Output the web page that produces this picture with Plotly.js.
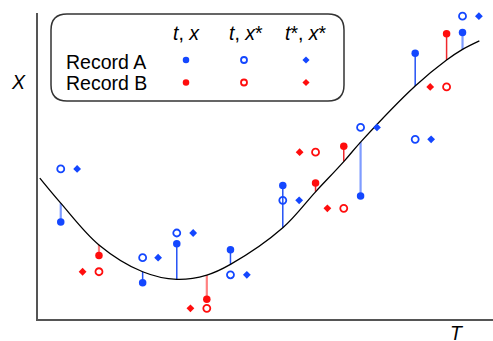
<!DOCTYPE html>
<html>
<head>
<meta charset="utf-8">
<script src="https://cdn.plot.ly/plotly-3.0.1.min.js"></script>
<style>html,body{margin:0;padding:0;background:#fff;}#chart{width:493px;height:341px;}</style>
</head>
<body>
<div id="chart"></div>
<script>
// ---- data (T and X in chart units, 0..10) ----
const aT     = [0.50, 2.30, 3.05, 4.23, 5.38, 7.09, 8.29, 9.33];
const aX     = [3.18, 1.19, 2.47, 2.27, 4.38, 4.03, 8.71, 9.39];
const aXstar = [4.92, 2.01, 2.82, 1.45, 3.89, 6.28, 5.89, 9.93];
const aTstar = [0.86, 2.64, 3.41, 4.59, 5.74, 7.45, 8.64, 9.69];
const aCurve = [3.80, 1.55, 1.30, 1.79, 2.99, 5.80, 7.64, 8.84];
const aLight = [1, 0, 0, 0, 0, 1, 0, 1];

const bT     = [1.34, 3.71, 6.10, 6.72, 8.98];
const bX     = [2.08, 0.65, 4.46, 5.66, 9.35];
const bXstar = [1.55, 0.35, 5.47, 3.63, 7.61];
const bTstar = [0.98, 3.35, 5.75, 6.36, 8.62];
const bCurve = [2.43, 1.44, 4.17, 5.16, 8.49];
const bLight = [1, 1, 0, 0, 0];

const curveT = [0.04, 0.50, 1.34, 2.30, 3.05, 3.71, 4.23, 5.38, 6.10, 6.72, 7.09, 8.29, 8.98, 9.33, 9.70];
const curveX = [4.62, 3.80, 2.43, 1.55, 1.30, 1.44, 1.79, 2.99, 4.17, 5.16, 5.80, 7.64, 8.49, 8.84, 9.12];

const rowLabels = ['Record A', 'Record B'];
const colLabels = ['<i>t</i>, <i>x</i>', '<i>t</i>, <i>x</i>*', '<i>t</i>*, <i>x</i>*'];
const axisLabelX = 'T';
const axisLabelY = 'X';

// ---- styles ----
const W = 493, H = 341;
const BLUE = '#1447ff', RED = '#ff0d0d';
const BLUE_D = '#2452f5', BLUE_L = '#7f9cff';
const RED_D = '#f0282c', RED_L = '#ff8080';
const FONT = 'Arial, "Liberation Sans", sans-serif';
const FS = 19.5;

function stems(t, x, c, light, want) {
  const xs = [], ys = [];
  t.forEach((v, i) => { if (light[i] === want) { xs.push(v, v, null); ys.push(c[i], x[i], null); } });
  return {xs, ys};
}
const traces = [];
[[aT, aX, aCurve, aLight, BLUE_D, BLUE_L], [bT, bX, bCurve, bLight, RED_D, RED_L]].forEach(([t, x, c, l, dc, lc]) => {
  const d = stems(t, x, c, l, 0), li = stems(t, x, c, l, 1);
  traces.push({x: d.xs, y: d.ys, mode: 'lines', line: {color: dc, width: 1.5}, hoverinfo: 'skip', cliponaxis: false});
  traces.push({x: li.xs, y: li.ys, mode: 'lines', line: {color: lc, width: 2.2}, hoverinfo: 'skip', cliponaxis: false});
});
traces.push({x: curveT, y: curveX, mode: 'lines', line: {color: '#000', width: 1.3, shape: 'spline', smoothing: 1}, hoverinfo: 'skip'});

function mk(sym, col, size) {
  if (sym === 'circle-open') return {symbol: sym, size: size, color: col, line: {color: col, width: 1.8}};
  return {symbol: sym, size: size, color: col, line: {width: 0}};
}
function pts(t, x, sym, col, size) {
  return {x: t, y: x, mode: 'markers', cliponaxis: false, hoverinfo: 'skip', marker: mk(sym, col, size)};
}
traces.push(pts(aT, aX, 'circle', BLUE, 7.5));
traces.push(pts(aT, aXstar, 'circle-open', BLUE, 7));
traces.push(pts(aTstar, aXstar, 'diamond', BLUE, 6));
traces.push(pts(bT, bX, 'circle', RED, 7.5));
traces.push(pts(bT, bXstar, 'circle-open', RED, 7));
traces.push(pts(bTstar, bXstar, 'diamond', RED, 6));

// legend markers on a full-figure pixel overlay (x2/y2)
const legColX = [186, 244, 306], legRowY = [60, 82.5], legColHeadY = 33;
const legSym = ['circle', 'circle-open', 'diamond'];
const legSize = [6.5, 6, 5.5];
[BLUE, RED].forEach((col, r) => {
  legSym.forEach((s, c) => {
    traces.push({x: [legColX[c]], y: [legRowY[r]], xaxis: 'x2', yaxis: 'y2', mode: 'markers', hoverinfo: 'skip', cliponaxis: false,
      marker: mk(s, col, legSize[c])});
  });
});

// rounded legend box
const bx0 = 51, bx1 = 344, by0 = 14, by1 = 101, rr = 16;
const boxPath = `M ${bx0 + rr} ${by0} L ${bx1 - rr} ${by0} Q ${bx1} ${by0} ${bx1} ${by0 + rr} L ${bx1} ${by1 - rr} Q ${bx1} ${by1} ${bx1 - rr} ${by1} L ${bx0 + rr} ${by1} Q ${bx0} ${by1} ${bx0} ${by1 - rr} L ${bx0} ${by0 + rr} Q ${bx0} ${by0} ${bx0 + rr} ${by0} Z`;

const ann = [];
rowLabels.forEach((t, i) => ann.push({xref: 'x2', yref: 'y2', x: 64, y: [61.5, 83][i], text: t, showarrow: false, xanchor: 'left', yanchor: 'middle', font: {family: FONT, size: FS, color: '#000'}}));
colLabels.forEach((t, i) => ann.push({xref: 'x2', yref: 'y2', x: [186, 246, 306][i], y: legColHeadY, text: t, showarrow: false, xanchor: 'center', yanchor: 'middle', font: {family: FONT, size: FS, color: '#000'}}));
ann.push({xref: 'x2', yref: 'y2', x: 18, y: 82, text: '<i>' + axisLabelY + '</i>', showarrow: false, xanchor: 'center', yanchor: 'middle', font: {family: FONT, size: FS, color: '#000'}});
ann.push({xref: 'x2', yref: 'y2', x: 457, y: 333, text: '<i>' + axisLabelX + '</i>', showarrow: false, xanchor: 'center', yanchor: 'middle', font: {family: FONT, size: FS, color: '#000'}});

const layout = {
  width: W, height: H, margin: {l: 0, r: 0, t: 0, b: 0},
  paper_bgcolor: '#fff', plot_bgcolor: 'rgba(0,0,0,0)', showlegend: false,
  xaxis: {domain: [38 / W, 1], range: [0, 10], showgrid: false, zeroline: false, showticklabels: false, ticks: '',
          showline: true, linecolor: '#555', linewidth: 2, anchor: 'y', fixedrange: true},
  yaxis: {domain: [22 / H, 1 - 13 / H], range: [0, 10.033], showgrid: false, zeroline: false, showticklabels: false, ticks: '',
          showline: true, linecolor: '#555', linewidth: 2, anchor: 'x', fixedrange: true},
  xaxis2: {domain: [0, 1], range: [0, W], visible: false, anchor: 'y2', fixedrange: true},
  yaxis2: {domain: [0, 1], range: [H, 0], visible: false, anchor: 'x2', fixedrange: true},
  shapes: [{type: 'path', xref: 'x2', yref: 'y2', path: boxPath, line: {color: '#333', width: 1.5}, fillcolor: 'rgba(0,0,0,0)'}],
  annotations: ann
};
Plotly.newPlot('chart', traces, layout, {staticPlot: true, displayModeBar: false});
</script>
</body>
</html>
